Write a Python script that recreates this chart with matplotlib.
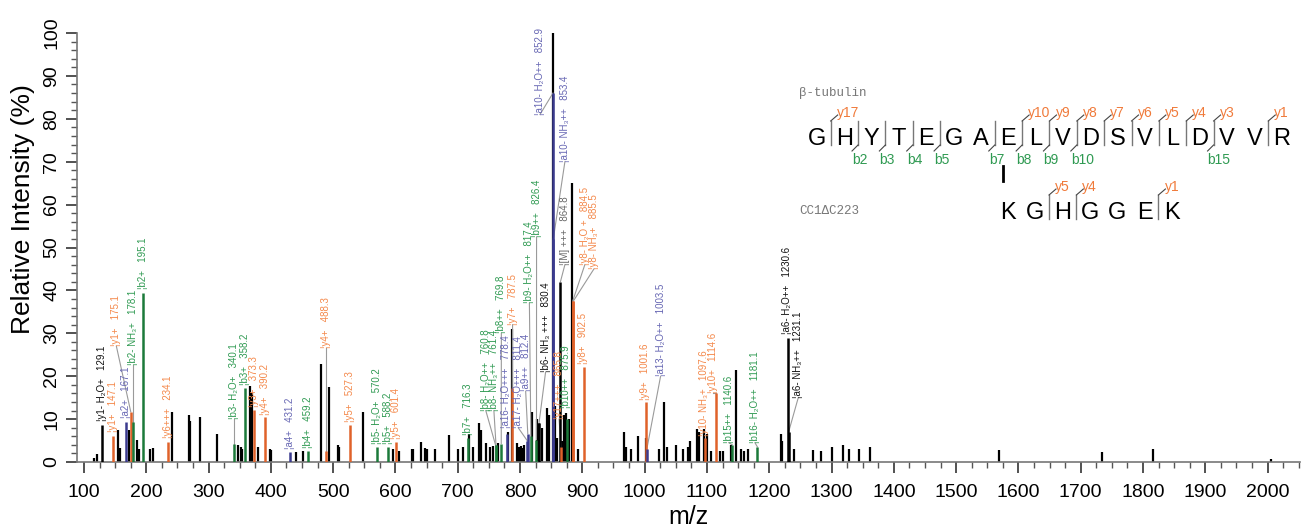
import matplotlib
matplotlib.use('Agg')
import matplotlib.pyplot as plt
from matplotlib.ticker import MultipleLocator

# unlabelled peaks: m/z and relative intensity (%)
peak_mz = [116, 120.4, 154, 157.8, 172, 184.6, 188.8, 206, 211, 240.8, 269, 270.8, 286,
           313, 347.7, 351.5, 353, 366, 369.5, 379.8, 398.6, 401, 440, 451, 480, 493.5,
           507, 510, 547.3, 595.5, 605.6, 626, 628, 641, 647, 650, 663, 686, 700, 709,
           718, 725, 734, 738, 745, 752, 757, 765, 781, 787.2, 794.5, 798, 801, 804, 807,
           819, 826.5, 830, 836, 842.6, 847, 852.9, 856, 860, 868, 871, 874, 878, 882.6,
           892.5, 967, 970, 978, 989.8, 1002.5, 1023, 1031, 1036, 1050, 1062, 1070, 1073,
           1083.5, 1088, 1096, 1100, 1107, 1121, 1125, 1139, 1146.5, 1155, 1160, 1166,
           1219, 1221, 1240, 1270, 1283, 1300, 1318, 1328, 1344, 1361, 1569, 1734, 1816,
           2005]
peak_int = [1.0, 1.8, 7.5, 3.3, 7.5, 5.1, 3.0, 3.0, 3.2, 11.7, 11.0, 9.5, 10.5,
            6.6, 4.0, 3.5, 3.0, 17.6, 16.0, 3.5, 3.0, 2.8, 2.4, 2.5, 22.8, 17.5,
            4.0, 3.5, 11.7, 3.0, 2.5, 3.0, 3.0, 4.7, 3.3, 3.0, 3.0, 6.3, 3.0, 3.5,
            6.5, 3.5, 9.0, 7.5, 4.5, 3.5, 3.8, 4.5, 7.0, 31.0, 4.5, 3.5, 3.8, 3.2, 4.0,
            11.7, 10.0, 9.0, 8.0, 12.5, 11.0, 100, 13.0, 5.5, 5.0, 11.0, 11.5, 10.0, 65,
            3.0, 7.0, 3.5, 3.0, 6.0, 5.5, 3.0, 14.0, 3.5, 4.0, 3.0, 3.5, 5.0,
            7.8, 7.0, 7.8, 6.5, 2.5, 2.5, 2.5, 4.0, 21.5, 3.0, 2.5, 3.0,
            6.6, 5.0, 3.0, 2.8, 2.5, 3.5, 4.0, 3.0, 3.0, 3.5, 2.8, 2.3, 3.0,
            0.6]

# annotated fragment ions
ion_mz = [129.1, 147.1, 167.1, 175.1, 178.1, 195.1, 234.1, 340.1, 358.2, 373.3, 390.2,
          431.2, 459.2, 488.3, 527.3, 570.2, 588.2, 601.4, 716.3, 760.8, 761.4, 769.8,
          778.4, 787.5, 811.4, 812.4, 817.4, 826.4, 830.4, 852.9, 853.4, 864.8, 865.8,
          875.9, 884.5, 885.5, 902.5, 1001.6, 1003.5, 1097.6, 1114.6, 1140.6, 1181.1,
          1230.6, 1231.1]
ion_int = [8.7, 6.1, 9.4, 11.7, 9.4, 39.5, 4.7, 4.1, 17.2, 12.2, 10.4,
           2.3, 2.6, 2.5, 8.7, 3.5, 3.5, 4.7, 5.5, 3.9, 4.0, 4.3,
           6.6, 17.2, 5.0, 6.6, 6.0, 5.2, 9.0, 86, 52, 42, 3.5,
           10.0, 37.5, 37.5, 22.2, 14.0, 3.0, 5.7, 16.0, 4.0, 3.5,
           29.0, 7.0]
ion_name = ['y1- H₂O+', 'y1+', 'a2+', 'y1+', 'b2- NH₃+', 'b2+', 'y6+++', 'b3- H₂O+', 'b3+',
            'y3+', 'y4+', 'a4+', 'b4+', 'y4+', 'y5+', 'b5- H₂O+', 'b5+', 'y5+', 'b7+',
            'b8- H₂O++', 'b8- NH₃++', 'b8++', 'a16- H₂O+++', 'y7+', 'a17- H₂O+++', 'a9++',
            'b9- H₂O++', 'b9++', 'b6- NH₃ +++', 'a10- H₂O++', 'a10- NH₃++', '[M] +++',
            'y17+++', 'b10++', 'y8- H₂O +', 'y8- NH₃+', 'y8+', 'y9+', 'a13- H₂O++',
            'y10- NH₃+', 'y10+', 'b15++', 'b16- H₂O++', 'a6- H₂O++', 'a6- NH₃++']
ion_kind = ['o', 'y', 'a', 'y', 'b', 'b', 'y', 'b', 'b', 'y', 'y', 'a', 'b', 'y', 'y',
            'b', 'b', 'y', 'b', 'b', 'b', 'b', 'a', 'y', 'a', 'a', 'b', 'b', 'o', 'a',
            'a', 'm', 'y', 'b', 'y', 'y', 'y', 'y', 'a', 'y', 'y', 'b', 'b', 'o', 'o']

# where each label starts (m/z, %)
label_mz = [129.1, 147.1, 167.1, 152, 178.1, 195.1, 234.1, 340.1, 358.2, 373.3, 390.2,
            431.2, 459.2, 488.3, 527.3, 570.2, 588.2, 601.4, 716.3, 745, 758, 770,
            777.5, 788, 797, 809, 815, 826.5, 841, 832, 872, 872, 862.6,
            874.5, 904, 918.6, 901.5, 1000.6, 1025.6, 1095, 1110, 1135, 1177,
            1228, 1246.6]
label_y = [9.5, 7, 10.3, 27, 22.5, 40.3, 5.5, 10, 18, 12.8, 11,
           3, 3.2, 26.5, 9.3, 4.2, 4.2, 5.3, 6.2, 12, 12, 30,
           8, 32, 8, 16.5, 37, 52.5, 21, 81, 70, 46, 10,
           12.5, 46, 45, 22.8, 14.5, 20, 6, 16, 4.5, 4.5,
           29.8, 15]

seq1 = "GHYTEGAELVDSVLDVVR"
seq1_y = [17, 10, 9, 8, 7, 6, 5, 4, 3, 1]
seq1_b = [2, 3, 4, 5, 7, 8, 9, 10, 15]
seq2 = "KGHGGEK"
seq2_y = [5, 4, 1]

bar_col = {'y': '#e0622a', 'b': '#1c7a3a', 'a': '#3b3b8e', 'o': 'black', 'm': 'black'}
txt_col = {'y': '#f4884a', 'b': '#2f9a52', 'a': '#6666b3', 'o': '#111111', 'm': '#666666'}
SEQ_Y = '#f07a3a'
SEQ_B = '#2f9a52'

sans = ['Liberation Sans Narrow', 'Liberation Sans', 'DejaVu Sans']
arial = ['Liberation Sans', 'DejaVu Sans']
plt.rcParams['font.family'] = sans

W, H = 1312, 528
fig = plt.figure(figsize=(W / 100, H / 100), dpi=100)
ax = fig.add_axes([77 / W, (H - 462) / H, (1300 - 77) / W, (462 - 33) / H])

ax.vlines(peak_mz, 0, peak_int, color='black', lw=1.6)
for mz, inten, name, kind, lx, ly in zip(ion_mz, ion_int, ion_name, ion_kind, label_mz, label_y):
    ax.vlines(mz, 0, inten, color=bar_col[kind], lw=1.8, zorder=3)
    if abs(lx - mz) > 3 or ly - inten > 3:
        ax.plot([mz, lx], [inten, ly], color='#9a9a9a', lw=0.8, zorder=2)
    ax.text(lx, ly, '¦' + name + '   ' + '%.1f' % mz, rotation=90, ha='center', va='bottom',
            fontsize=7, color=txt_col[kind], family=sans, zorder=4)

ax.set_xlim(88.8, 2052)
ax.set_ylim(0, 100)
ax.xaxis.set_major_locator(MultipleLocator(100))
ax.xaxis.set_minor_locator(MultipleLocator(25))
ax.yaxis.set_major_locator(MultipleLocator(10))
ax.yaxis.set_minor_locator(MultipleLocator(2))
for s in ['top', 'right']:
    ax.spines[s].set_visible(False)
for s in ['left', 'bottom']:
    ax.spines[s].set_color('#777777')
    ax.spines[s].set_linewidth(1.2)
ax.tick_params(which='major', length=8, width=1.2, color='#333333', labelsize=14)
ax.tick_params(which='minor', length=4, width=1.0, color='#555555')
ax.tick_params(axis='x', which='major', pad=8)
ax.tick_params(axis='y', which='major', pad=4)
for t in ax.get_yticklabels():
    t.set_rotation(90)
    t.set_va('center')
ax.set_xlabel('m/z', fontsize=18, family=arial)
ax.set_ylabel('Relative Intensity (%)', fontsize=19, family=arial)
ax.yaxis.set_label_coords(-0.034, 0.59)
ax.xaxis.set_label_coords(0.5, -0.1)

# peptide map, in pixel coordinates over the whole figure
ov = fig.add_axes([0, 0, 1, 1], facecolor='none')
ov.set_xlim(0, W)
ov.set_ylim(H, 0)
ov.axis('off')

mono = ['Liberation Mono', 'DejaVu Sans Mono']
ov.text(799, 96, 'β-tubulin', fontsize=9, color='#777777', family=mono)
ov.text(799, 214, 'CC1ΔC223', fontsize=9, color='#777777', family=mono)

step = 27.35


def draw_peptide(seq, x0, base, ys, bs):
    n = len(seq)
    for i, ch in enumerate(seq):
        ov.text(x0 + i * step, base, ch, ha='center', va='baseline', fontsize=17,
                color='black', family=arial)
    for k in sorted(set([n - y for y in ys] + bs)):
        xs = x0 + (k - 0.5) * step
        ov.plot([xs, xs], [base - 24, base], color='#777777', lw=1.0)
        if k in [n - y for y in ys]:
            ov.plot([xs, xs + 7], [base - 24, base - 30], color='#444444', lw=0.8)
            ov.text(xs + 6, base - 28, 'y%d' % (n - k), fontsize=10, color=SEQ_Y, family=arial)
        if k in bs:
            ov.plot([xs, xs - 6], [base, base + 6], color='#444444', lw=0.8)
            ov.text(xs - 6, base + 19, 'b%d' % k, fontsize=10, color=SEQ_B, family=arial)


draw_peptide(seq1, 817, 145, seq1_y, seq1_b)
draw_peptide(seq2, 1008, 219, seq2_y, [])
ov.plot([1003, 1003], [166, 181], color='black', lw=2)

fig.savefig('out.png', dpi=100)
